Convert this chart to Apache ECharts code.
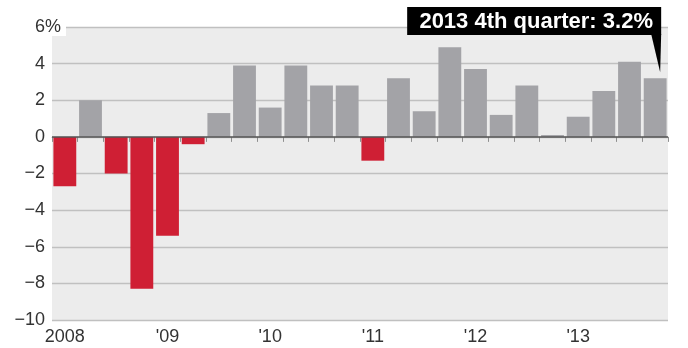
<!DOCTYPE html>
<html>
<head>
<meta charset="utf-8">
<script src="https://cdn.jsdelivr.net/npm/echarts@6/dist/echarts.min.js"></script>
<style>
html,body{margin:0;padding:0;background:#fff;}
#c{width:688px;height:348px;}
</style>
</head>
<body>
<div id="c"></div>
<script>
var categories = ['2008 Q1','2008 Q2','2008 Q3','2008 Q4','2009 Q1','2009 Q2','2009 Q3','2009 Q4',
  '2010 Q1','2010 Q2','2010 Q3','2010 Q4','2011 Q1','2011 Q2','2011 Q3','2011 Q4',
  '2012 Q1','2012 Q2','2012 Q3','2012 Q4','2013 Q1','2013 Q2','2013 Q3','2013 Q4'];
var growth = [-2.7, 2.0, -2.0, -8.3, -5.4, -0.4, 1.3, 3.9,
  1.6, 3.9, 2.8, 2.8, -1.3, 3.2, 1.4, 4.9,
  3.7, 1.2, 2.8, 0.1, 1.1, 2.5, 4.1, 3.2];
var xTickLabels = ['2008','','','',"'09",'','','',"'10",'','','',"'11",'','','',"'12",'','','',"'13",'','',''];
var yTickLabels = {'6':'6','4':'4','2':'2','0':'0','-2':'\u22122','-4':'\u22124','-6':'\u22126','-8':'\u22128','-10':'\u221210'};
var yUnit = '%';
var calloutText = '2013 4th quarter: 3.2%';

var FONT = '"Liberation Sans", Arial, Helvetica, sans-serif';
var GRID_LEFT = 52, LABEL_MARGIN = 7;
var chart = echarts.init(document.getElementById('c'), null, {renderer:'canvas'});

chart.setOption({
  animation: false,
  backgroundColor: '#ffffff',
  grid: {left: GRID_LEFT, right: 20, top: 27, bottom: 28, show: true, backgroundColor: '#ececec', borderWidth: 0},
  xAxis: {
    type: 'category',
    data: categories,
    boundaryGap: true,
    axisLine: {show: true, lineStyle: {color: '#c4c4c4', width: 1}},
    axisTick: {show: true, interval: 0, alignWithLabel: false, length: 5, lineStyle: {color: '#8f8f8f'}},
    axisLabel: {
      interval: 0, margin: 8, color: '#333', fontFamily: FONT, fontSize: 18,
      formatter: function (v, i) { return xTickLabels[i]; }
    }
  },
  yAxis: {
    type: 'value',
    min: -10, max: 6, interval: 2,
    axisLine: {show: false},
    axisTick: {show: false},
    splitLine: {show: true, lineStyle: {color: '#c0c0c0', width: 1.3}},
    axisLabel: {
      margin: LABEL_MARGIN, color: '#333', fontFamily: FONT, fontSize: 18,
      formatter: function (v) { return yTickLabels[String(v)]; }
    }
  },
  series: [{
    type: 'bar',
    data: growth.map(function (v) {
      return {value: v, itemStyle: {color: v < 0 ? '#cf1f34' : '#a3a3a7'}};
    }),
    barCategoryGap: '11%',
    markLine: {
      silent: true, symbol: 'none', label: {show: false},
      lineStyle: {color: '#555', width: 1.5, type: 'solid'},
      data: [{yAxis: 0}]
    }
  }]
});

// Annotations positioned from data coordinates
var lastIdx = growth.length - 1;
var barPt = chart.convertToPixel({seriesIndex: 0}, [lastIdx, growth[lastIdx]]);
var topY = chart.convertToPixel({yAxisIndex: 0}, 6);
var boxRight = barPt[0] + 6;
var boxLeft = boxRight - 254;
var boxTop = topY - 20;
var boxBottom = topY + 8;

chart.setOption({
  graphic: [
    {
      type: 'text', x: GRID_LEFT - LABEL_MARGIN, y: topY, z: 10,
      style: {text: yUnit, fill: '#333', font: '18px ' + FONT, verticalAlign: 'middle', align: 'left',
        backgroundColor: '#ffffff', padding: [0, 5, 0, 0]}
    },
    {
      type: 'rect', z: 20,
      shape: {x: boxLeft, y: boxTop, width: boxRight - boxLeft, height: boxBottom - boxTop},
      style: {fill: '#000'}
    },
    {
      type: 'polygon', z: 20,
      shape: {points: [[boxRight - 10, boxBottom - 1], [boxRight, boxBottom - 1], [barPt[0] + 5, barPt[1] - 6]]},
      style: {fill: '#000'}
    },
    {
      type: 'text', z: 21,
      x: (boxLeft + boxRight) / 2 + 2, y: (boxTop + boxBottom) / 2 + 1,
      style: {text: calloutText, fill: '#fff', font: 'bold 22px ' + FONT, align: 'center', verticalAlign: 'middle'}
    }
  ]
});
</script>
</body>
</html>
